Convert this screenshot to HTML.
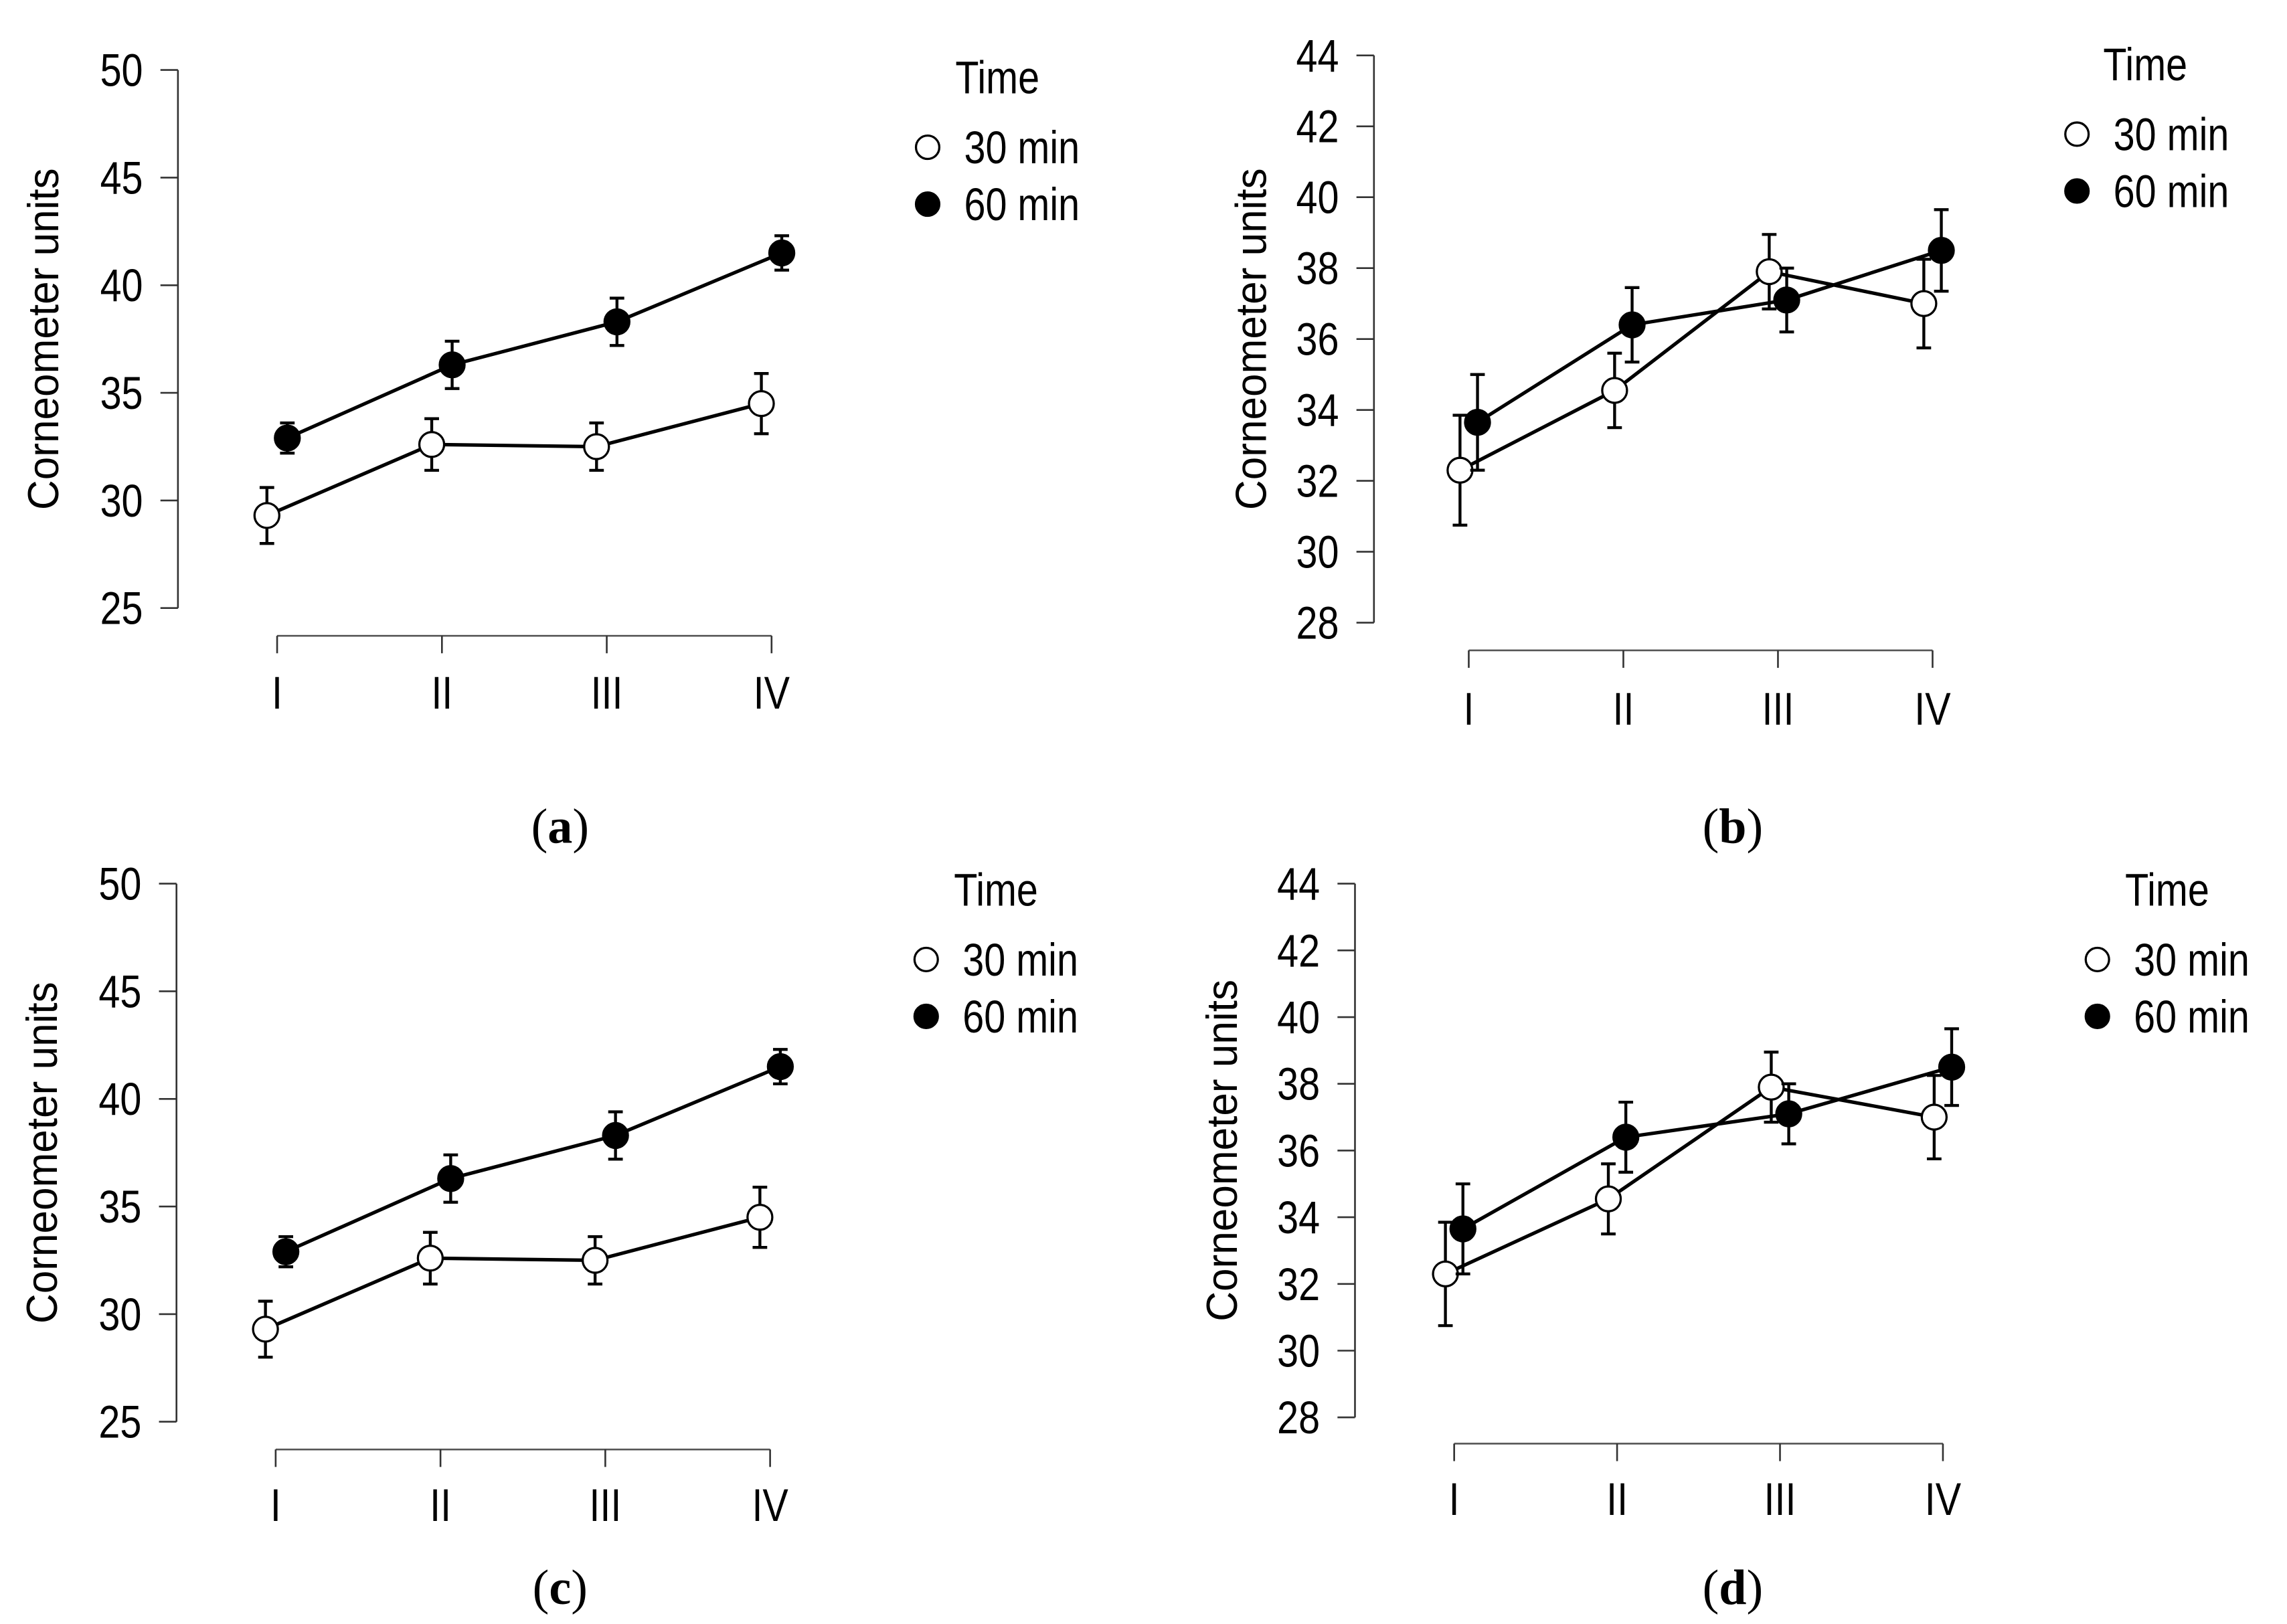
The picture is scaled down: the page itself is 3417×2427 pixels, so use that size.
<!DOCTYPE html>
<html><head><meta charset="utf-8"><style>
html,body{margin:0;padding:0;background:#fff;}
svg{display:block;}
text{font-family:"Liberation Sans",Arial,sans-serif;fill:#000;}
.cap{font-family:"Liberation Serif",serif;}
</style></head>
<body>
<svg id="fig" width="3417" height="2427" viewBox="0 0 1568 1113.7" preserveAspectRatio="none" xmlns="http://www.w3.org/2000/svg"></svg>
<script>
// Categories
const categories = ["I","II","III","IV"];
// Panel (a)/(c) data
const acMean30 = [29.3, 32.6, 32.5, 34.5];
const acErr30  = [1.3, 1.2, 1.1, 1.4];
const acMean60 = [32.9, 36.3, 38.3, 41.5];
const acErr60  = [0.7, 1.1, 1.1, 0.8];
const acTicks  = [25, 30, 35, 40, 45, 50];
// Panel (b)/(d) data
const bdMean30 = [32.3, 34.55, 37.9, 37.0];
const bdErr30  = [1.55, 1.05, 1.05, 1.25];
const bdMean60 = [33.65, 36.4, 37.1, 38.5];
const bdErr60  = [1.35, 1.05, 0.9, 1.15];
const bdTicks  = [28, 30, 32, 34, 36, 38, 40, 42, 44];

const NS = "http://www.w3.org/2000/svg";
const svg = document.getElementById("fig");
function mk(tag, attrs, parent, txt){
  const e = document.createElementNS(NS, tag);
  for (const k in attrs) e.setAttribute(k, attrs[k]);
  if (txt !== undefined) e.textContent = txt;
  (parent || svg).appendChild(e);
  return e;
}
// text drawn slightly condensed & taller like the reference
function tx(x, y, str, size, anchor, parent){
  const t = mk("text", {x:0, y:0, "text-anchor":anchor, "font-size":size,
    transform:"translate(" + x + "," + y + ") scale(0.88,1.05)"}, parent, str);
  return t;
}

function panel(id, cfg, m30, e30, m60, e60, ticks){
  const g = mk("g", {});
  
  
  const yMin = ticks[0], yMax = ticks[ticks.length-1];
  const y = v => cfg.yBot - (v - yMin) / (yMax - yMin) * (cfg.yBot - cfg.yTop);
  const x = i => cfg.xs[0] + i * (cfg.xs[1] - cfg.xs[0]);
  const ya = mk("line", {x1:cfg.ax, x2:cfg.ax, y1:y(yMin), y2:y(yMax), stroke:"#333", "stroke-width":1.2}, g);
  
  
  ticks.forEach(t => {
    mk("line", {x1:cfg.ax-12, x2:cfg.ax, y1:y(t), y2:y(t), stroke:"#333", "stroke-width":1.2}, g);
    const tl = tx(cfg.ax-24, y(t)+11, t, 30, "end", g);
    
    
  });
  const yt = mk("text", {x:0, y:0, "text-anchor":"middle", "font-size":30,
    transform:"translate(" + cfg.titleX + "," + ((y(yMin)+y(yMax))/2) + ") rotate(-90) scale(0.95,1)"}, g, "Corneometer units");
  
  
  const xa = mk("line", {x1:x(0), x2:x(3), y1:cfg.xAxY, y2:cfg.xAxY, stroke:"#555", "stroke-width":1.2}, g);
  
  
  categories.forEach((c, i) => {
    mk("line", {x1:x(i), x2:x(i), y1:cfg.xAxY, y2:cfg.xAxY+12, stroke:"#333", "stroke-width":1.2}, g);
    const xl = tx(x(i), cfg.xLabY, c, 30, "middle", g);
    
    
  });
  const series = [[m30, e30, "#fff", -cfg.off, "30min"], [m60, e60, "#000", cfg.off, "60min"]];
  series.forEach(s => {
    const [m, e, fill, dx, nm] = s;
    const pts = m.map((v, i) => (x(i)+dx) + "," + y(v)).join(" ");
    const pl = mk("polyline", {points:pts, fill:"none", stroke:"#000", "stroke-width":2.4}, g);
    
    
    m.forEach((v, i) => {
      const cx = x(i)+dx;
      const eb = mk("path", {d:"M"+cx+","+y(v-e[i])+"V"+y(v+e[i])+"M"+(cx-5)+","+y(v-e[i])+"h10M"+(cx-5)+","+y(v+e[i])+"h10",
        stroke:"#000", "stroke-width":2, fill:"none"}, g);
      
      
    });
    m.forEach((v, i) => {
      const pt = mk("circle", {cx:x(i)+dx, cy:y(v), r:8.5, fill:fill, stroke:"#000", "stroke-width":1.5}, g);
      
      
    });
  });
  const lt = tx(cfg.legX, cfg.legY, "Time", 30, "start", g);
  
  
  [["30 min", "#fff"], ["60 min", "#000"]].forEach((l, k) => {
    const cy = cfg.legY + 37 + k*39;
    const lc = mk("circle", {cx:cfg.legCX, cy:cy, r:8, fill:l[1], stroke:"#000", "stroke-width":1.5}, g);
    
    
    const le = tx(cfg.legCX+25, cy+11, l[0], 30, "start", g);
    
    
  });
  const cap = mk("text", {x:cfg.capX, y:cfg.capY, "text-anchor":"middle", "font-size":34, class:"cap"}, g);
  
  
  mk("tspan", {}, cap, "(");
  mk("tspan", {"font-weight":"bold"}, cap, id);
  mk("tspan", {}, cap, ")");
}

panel("a", {ax:122, yTop:48, yBot:417, xs:[190,303], xAxY:436, xLabY:486, off:7, titleX:40,
  legX:655, legY:64, legCX:636, capX:384, capY:578}, acMean30, acErr30, acMean60, acErr60, acTicks);
panel("b", {ax:942, yTop:38, yBot:427, xs:[1007,1113], xAxY:446, xLabY:497, off:6, titleX:868,
  legX:1442, legY:55, legCX:1424, capX:1188, capY:578}, bdMean30, bdErr30, bdMean60, bdErr60, bdTicks);
panel("c", {ax:121, yTop:606, yBot:975, xs:[189,302], xAxY:994, xLabY:1043, off:7, titleX:39,
  legX:654, legY:621, legCX:635, capX:384, capY:1100}, acMean30, acErr30, acMean60, acErr60, acTicks);
panel("d", {ax:929, yTop:606, yBot:972, xs:[997,1108.7], xAxY:990, xLabY:1039, off:6, titleX:848,
  legX:1457, legY:621, legCX:1438, capX:1188, capY:1100}, bdMean30, bdErr30, bdMean60, bdErr60, bdTicks);
</script>
</body></html>
